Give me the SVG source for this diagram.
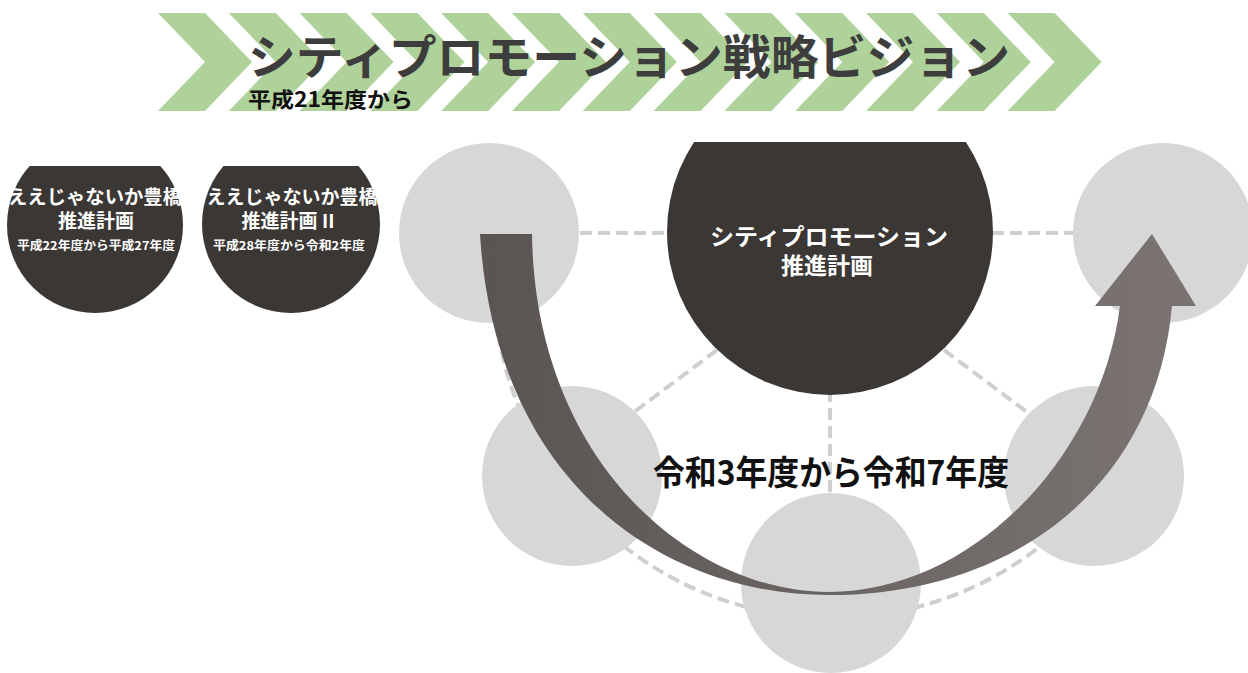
<svg xmlns="http://www.w3.org/2000/svg" width="1248" height="673" viewBox="0 0 1248 673">
<style>
.jp{font-family:"Noto Sans CJK JP","Noto Sans CJK SC",sans-serif;font-weight:700}
.w{fill:#ffffff}
.dark{fill:#3b3735}
.gray{fill:#d7d7d7}
.dash{fill:none;stroke:#cfcfcf;stroke-width:4;stroke-dasharray:12 6}
</style>
<defs>
<polygon id="chev" points="0,13 47,13 94,62 47,111 0,111 47,62" fill="#afd29a"/>
<clipPath id="clipSmall"><rect x="0" y="166" width="400" height="200"/></clipPath>
<clipPath id="clipBig"><rect x="600" y="142" width="450" height="300"/></clipPath>
<linearGradient id="arrowGrad" gradientUnits="userSpaceOnUse" x1="480" y1="0" x2="1196" y2="0">
<stop offset="0" stop-color="#5a5553"/>
<stop offset="1" stop-color="#7b7472"/>
</linearGradient>
</defs>
<rect width="1248" height="673" fill="#ffffff"/>
<g id="banner">
<use href="#chev" x="158"/>
<use href="#chev" x="228.8"/>
<use href="#chev" x="299.6"/>
<use href="#chev" x="370.4"/>
<use href="#chev" x="441.2"/>
<use href="#chev" x="512"/>
<use href="#chev" x="582.8"/>
<use href="#chev" x="653.6"/>
<use href="#chev" x="724.4"/>
<use href="#chev" x="795.2"/>
<use href="#chev" x="866"/>
<use href="#chev" x="936.8"/>
<use href="#chev" x="1007.6"/>
<text class="jp" x="248" y="74" font-size="47" fill="#3d3d3d" textLength="762" lengthAdjust="spacingAndGlyphs">シティプロモーション戦略ビジョン</text>
<text class="jp" x="248" y="107" font-size="21" fill="#111111" textLength="165" lengthAdjust="spacingAndGlyphs">平成21年度から</text>
</g>
<g id="connectors">
<path class="dash" d="M 494 280 A 338 338 0 0 0 1170 280"/>
<line class="dash" x1="580" y1="233" x2="668" y2="233"/>
<line class="dash" x1="992" y1="233" x2="1074" y2="233"/>
<line class="dash" x1="717" y1="350" x2="630" y2="415"/>
<line class="dash" x1="944" y1="350" x2="1031" y2="415"/>
<line class="dash" x1="830" y1="390" x2="830" y2="495"/>
</g>
<g id="plan1">
<circle class="dark" cx="95" cy="225" r="88" clip-path="url(#clipSmall)"/>
<text class="jp w" x="95" y="204" font-size="19" text-anchor="middle" textLength="174" lengthAdjust="spacingAndGlyphs">ええじゃないか豊橋</text>
<text class="jp w" x="96" y="228" font-size="19" text-anchor="middle">推進計画</text>
<text class="jp w" x="96" y="250" font-size="12" text-anchor="middle" textLength="158" lengthAdjust="spacingAndGlyphs">平成22年度から平成27年度</text>
</g>
<g id="plan2">
<circle class="dark" cx="291" cy="224" r="89" clip-path="url(#clipSmall)"/>
<text class="jp w" x="292" y="204" font-size="19" text-anchor="middle" textLength="171" lengthAdjust="spacingAndGlyphs">ええじゃないか豊橋</text>
<text class="jp w" x="288" y="228" font-size="19" text-anchor="middle">推進計画 II</text>
<text class="jp w" x="289" y="250" font-size="12" text-anchor="middle" textLength="152" lengthAdjust="spacingAndGlyphs">平成28年度から令和2年度</text>
</g>
<g id="circle-top-left"><circle class="gray" cx="489" cy="233" r="90"/></g>
<g id="circle-top-right"><circle class="gray" cx="1163" cy="233" r="90"/></g>
<g id="circle-lower-left"><circle class="gray" cx="572" cy="476" r="90"/></g>
<g id="circle-lower-right"><circle class="gray" cx="1094" cy="476" r="90"/></g>
<g id="circle-bottom"><circle class="gray" cx="831" cy="583" r="90"/></g>
<g id="main-plan">
<circle class="dark" cx="830" cy="232" r="163" clip-path="url(#clipBig)"/>
<text class="jp w" x="829" y="245" font-size="23" text-anchor="middle" textLength="238" lengthAdjust="spacingAndGlyphs">シティプロモーション</text>
<text class="jp w" x="827" y="274" font-size="23" text-anchor="middle">推進計画</text>
</g>
<g id="arrow">
<path fill="url(#arrowGrad)" d="M 480 234 L 532 234 C 535 460 690 592 829 592 C 970 592 1100 460 1120 306 L 1095 306 L 1152 234 L 1196 306 L 1172 306 C 1155 490 1010 595 829 595 C 660 595 495 480 480 234 Z"/>
</g>
<g id="period">
<text class="jp" x="831" y="485" font-size="34" fill="#111111" text-anchor="middle" textLength="356" lengthAdjust="spacingAndGlyphs">令和3年度から令和7年度</text>
</g>
</svg>
